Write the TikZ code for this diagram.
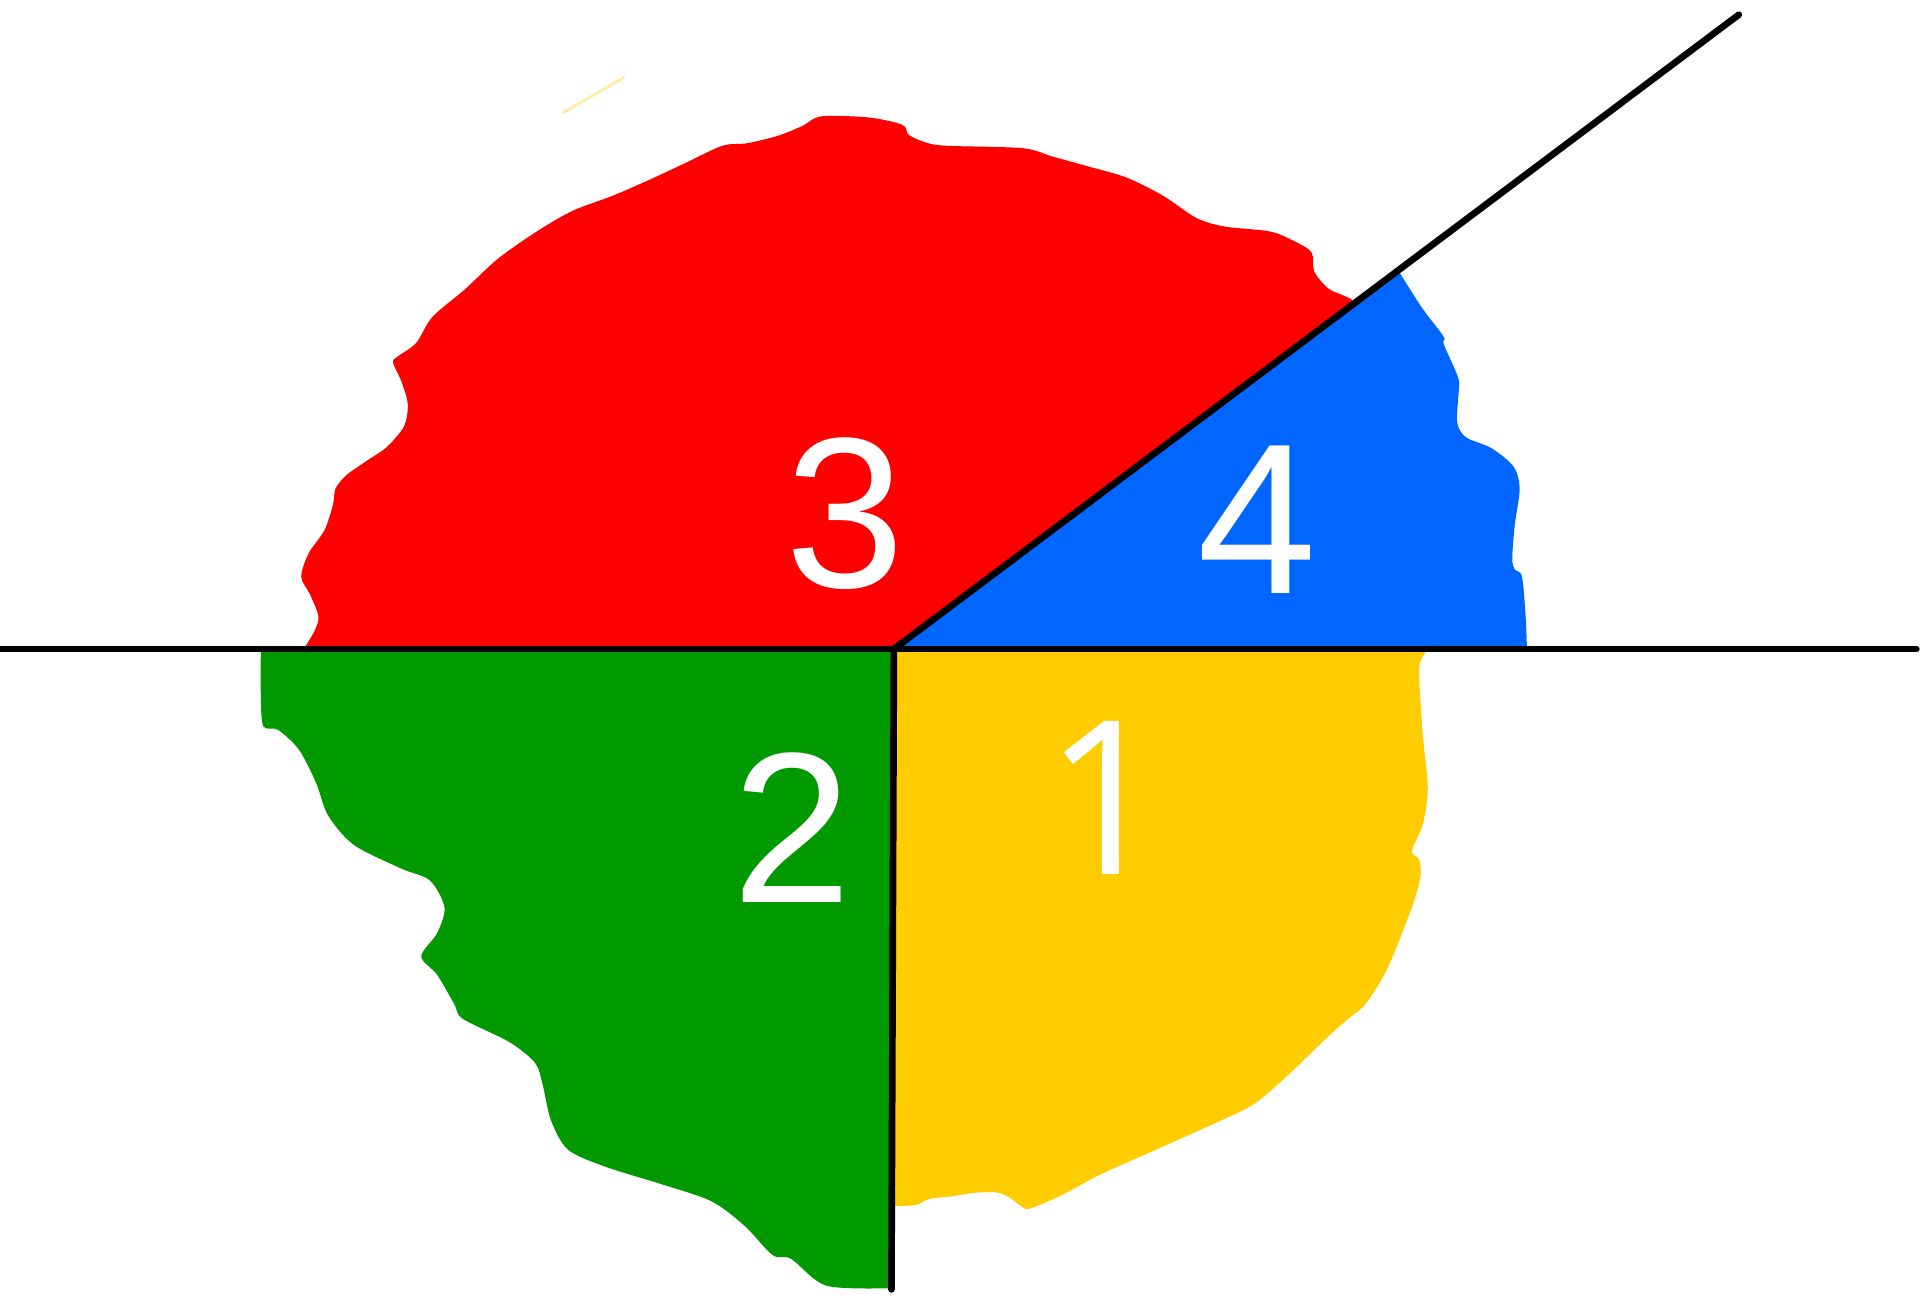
\documentclass[tikz,border=0pt]{standalone}
\usepackage{fontspec}
\setmainfont{Liberation Sans}
\newfontfamily\onefont{Open Sans}
\definecolor{rred}{HTML}{FF0000}
\definecolor{bblue}{HTML}{0066FF}
\definecolor{ggreen}{HTML}{009900}
\definecolor{yyellow}{HTML}{FFCC00}
\begin{document}
\begin{tikzpicture}[x=0.012245cm,y=-0.012245cm,
  divider/.style={line width=1.9pt, line cap=round, black},
  lbl/.style={text=white, font=\fontsize{61}{61}\selectfont, inner sep=0pt, anchor=base}]
\useasboundingbox (0,0) rectangle (1568,1058);
\coordinate (O) at (730,530);
\coordinate (L) at (0,530);
\coordinate (R) at (1565,530);
\coordinate (D) at (728,1053);
\coordinate (U) at (1420,12);

% faint stroke
\draw[yyellow!35, line width=0.8pt] (460,92) -- (510,63);

% region 3 (red)
\fill[rred] (O) -- plot[smooth] coordinates {
 (248,530) (257,515) (260,503) (253,485) (246,471) (252,452) (265,433) (272,412)
 (274,399) (283,388) (300,376) (316,365) (330,348) (333,330) (328,312) (321,296)
 (325,291) (340,280) (353,259) (380,236) (407,211) (440,188) (468,172) (500,160)
 (530,147) (560,133) (590,119) (610,117) (635,111) (655,103) (671,95) (710,96)
 (737,102) (742,110) (755,116) (772,119) (835,121) (860,128) (889,136) (920,145)
 (950,160) (977,178) (1000,185) (1037,189) (1057,197) (1071,206) (1073,221)
 (1080,231) (1087,237) (1103,244) (1106,249)} -- cycle;

% region 4 (blue)
\fill[bblue] (O) -- plot[smooth] coordinates {
 (1142,221) (1161,251) (1179,275) (1179,281) (1191,309) (1191,323) (1190,345)
 (1197,357) (1218,366) (1236,381) (1241,399) (1237,429) (1235,456) (1237,465)
 (1243,471) (1246,505) (1247,530)} -- cycle;

% region 1 (yellow)
\fill[yyellow] (O) -- plot[smooth] coordinates {
 (1166,530) (1160,540) (1159,554) (1162,601) (1166,644) (1162,673) (1153,695)
 (1159,702) (1160,716) (1153,741) (1133,791) (1115,820) (1101,832) (1083,848)
 (1054,876) (1025,901) (995,916) (946,938) (899,959) (867,976) (841,987)
 (834,985) (826,979) (815,974) (797,974) (777,977) (759,979) (748,984) (730,985)} -- cycle;

% region 2 (green)
\fill[ggreen] (O) -- plot[smooth] coordinates {
 (727,1052) (675,1050) (646,1028) (631,1025) (608,1001) (581,981) (540,967)
 (495,953) (464,939) (450,915) (443,885) (437,868) (416,851) (378,832) (371,820)
 (357,796) (344,781) (357,762) (363,741) (351,719) (327,709) (289,690) (268,666)
 (258,639) (244,612) (227,596) (215,593) (213,567) (213,530)} -- cycle;

% dividing lines
\draw[divider] (L) -- (R);
\draw[divider] (O) -- (U);
\draw[divider] (O) -- (D);

% labels
\node[lbl] (n3) at (690,480) {3};
\node[lbl] (n4) at (1027,485) {4};
\node[lbl] (n2) at (647,737) {2};
\node[lbl] (n1) at (903,714) {\onefont 1};
\end{tikzpicture}
\end{document}
